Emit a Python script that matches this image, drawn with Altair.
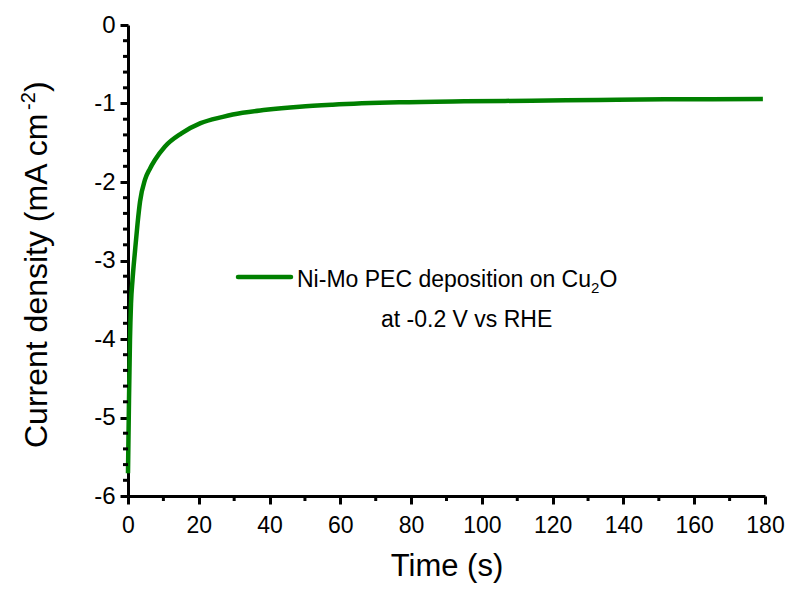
import altair as alt
import pandas as pd

# ---- data ----
time_s = [0.0, 0.28, 0.56, 0.85, 1.27, 2.0, 2.7, 3.4, 4.8, 6.2, 7.6, 10.4, 15.1, 20.5,
          26.8, 29.6, 39.0, 48.5, 57.8, 76.6, 95.0, 114.0, 133.0, 151.7, 165.0, 179.4]
current = [-5.71, -4.78, -4.01, -3.55, -3.25, -2.87, -2.53, -2.25, -1.97, -1.83, -1.72,
           -1.55, -1.38, -1.25, -1.17, -1.14, -1.08, -1.04, -1.015, -0.985, -0.972,
           -0.964, -0.955, -0.947, -0.945, -0.943]

x_major = [0, 20, 40, 60, 80, 100, 120, 140, 160, 180]
x_minor = [10, 30, 50, 70, 90, 110, 130, 150, 170]
y_major = [-6, -5, -4, -3, -2, -1, 0]
y_minor = [round(-6 + 0.2 * i, 1) for i in range(31) if i % 5 != 0]

legend_line1 = ["Ni-Mo PEC deposition on Cu"]
legend_sub = ["2"]
legend_tail = ["O"]
legend_line2 = ["at -0.2 V vs RHE"]
ytitle_main = ["Current density (mA cm"]
ytitle_sup = ["-2"]
ytitle_end = [")"]
xtitle = "Time (s)"

GREEN = "#008000"
FONT = "Liberation Sans"
W, H = 637, 471

df = pd.DataFrame({"t": time_s, "j": current})

xscale = alt.Scale(domain=[0, 180], nice=False, zero=False)
yscale = alt.Scale(domain=[-6, 0], nice=False, zero=False)

line = alt.Chart(df).mark_line(color=GREEN, strokeWidth=4.5, interpolate="monotone").encode(
    x=alt.X("t:Q", scale=xscale, axis=alt.Axis(
        values=x_major, title=xtitle, titleFontSize=31, titleFont=FONT,
        titleFontWeight="normal", titleColor="black", titlePadding=14,
        labelFontSize=23, labelFont=FONT, labelColor="black", labelPadding=10,
        tickSize=8, tickWidth=3, tickColor="black", domainColor="black",
        domainWidth=3, grid=False, labelFlush=False, labelOverlap=False)),
    y=alt.Y("j:Q", scale=yscale, axis=alt.Axis(
        values=y_major, title=None, labelFontSize=24, labelFont=FONT,
        labelColor="black", labelPadding=5, tickSize=8, tickWidth=3,
        tickColor="black", domainColor="black", domainWidth=3, grid=False,
        labelFlush=False, labelOverlap=False,
        labelExpr="datum.value == 0 ? '0' : '-' + abs(datum.value)")),
)

ymin_df = pd.DataFrame({"v": y_minor})
ymin = alt.Chart(ymin_df).mark_rule(color="black", strokeWidth=3).encode(
    y=alt.Y("v:Q", scale=yscale, axis=None),
    x=alt.value(-5), x2=alt.value(0),
)
xmin_df = pd.DataFrame({"v": x_minor})
xmin = alt.Chart(xmin_df).mark_rule(color="black", strokeWidth=3).encode(
    x=alt.X("v:Q", scale=xscale, axis=None),
    y=alt.value(H), y2=alt.value(H + 5),
)

def text_layer(values, x, y, size, angle=0, align="left"):
    d = pd.DataFrame({"s": values})
    kw = dict(align=align, baseline="alphabetic", fontSize=size, font=FONT, color="black")
    if angle:
        kw["angle"] = angle
    return alt.Chart(d).mark_text(**kw).encode(
        text="s:N", x=alt.value(x), y=alt.value(y))

leg_df = pd.DataFrame({"s": legend_line1})
leg_line = alt.Chart(leg_df).mark_rule(color=GREEN, strokeWidth=4.5, strokeCap="round").encode(
    x=alt.value(110), x2=alt.value(163), y=alt.value(252))

t1 = text_layer(legend_line1, 169, 262, 23)
t_sub = text_layer(legend_sub, 463, 268, 15)
t_o = text_layer(legend_tail, 471.5, 262, 23)
t2 = text_layer(legend_line2, 253, 302, 23)

yt_main = text_layer(ytitle_main, -81, 423, 32, angle=270)
yt_sup = text_layer(ytitle_sup, -93, 85, 20, angle=270)
yt_end = text_layer(ytitle_end, -81, 67, 32, angle=270)

chart = alt.layer(
    line, ymin, xmin, leg_line, t1, t_sub, t_o, t2, yt_main, yt_sup, yt_end
).resolve_axis(x="independent", y="independent").properties(
    width=W, height=H,
    autosize=alt.AutoSizeParams(type="none"),
    padding={"left": 120, "top": 17, "right": 20, "bottom": 88},
    background="white",
).configure_view(stroke=None)

chart.save("out.html", embed_options={"renderer": "svg", "actions": False})
